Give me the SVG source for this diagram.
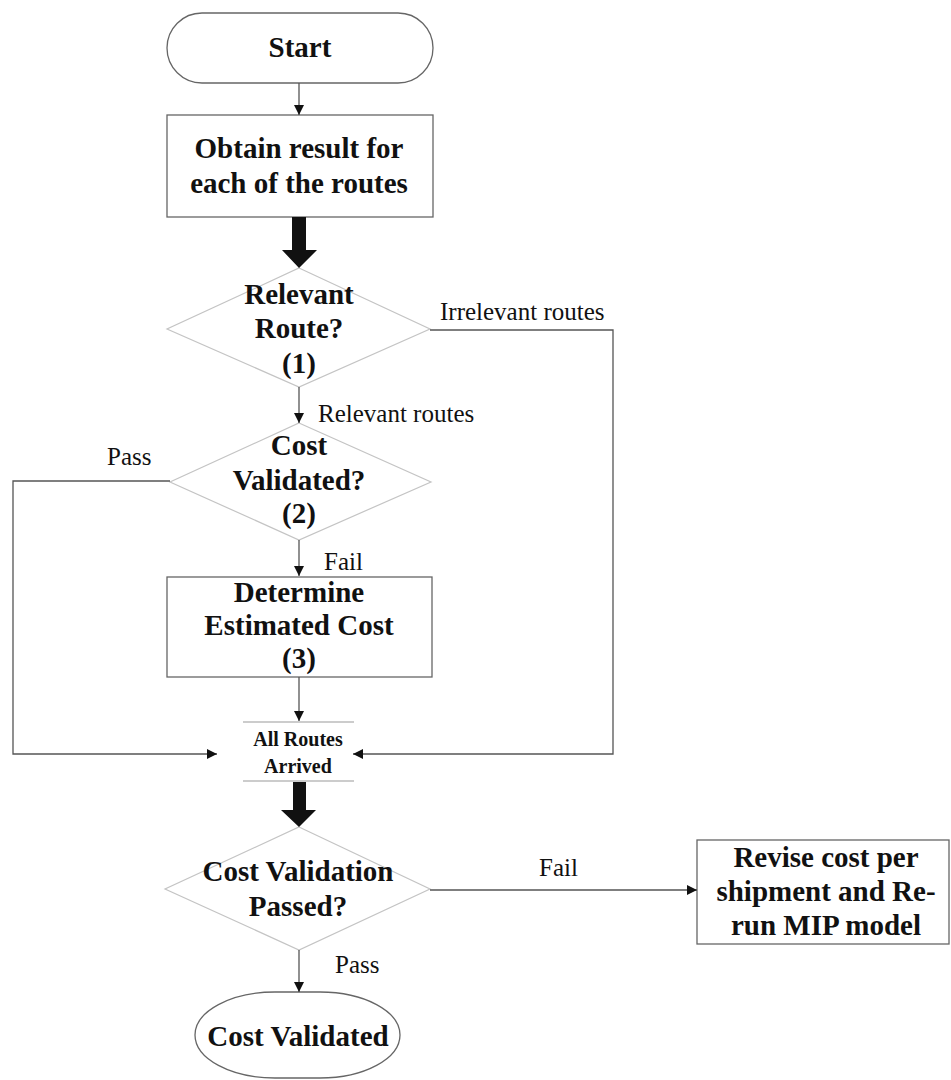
<svg xmlns="http://www.w3.org/2000/svg" width="951" height="1080" viewBox="0 0 951 1080">
<style>
.t{font-family:"Liberation Serif","Times New Roman",serif;font-weight:bold;font-size:29px;fill:#111;text-anchor:middle}
.s{font-family:"Liberation Serif","Times New Roman",serif;font-weight:bold;font-size:20px;fill:#111;text-anchor:middle}
.l{font-family:"Liberation Serif","Times New Roman",serif;font-size:25px;fill:#111}
.box{fill:#fff;stroke:#666;stroke-width:1.3}
.dia{fill:#fff;stroke:#c4c4c4;stroke-width:1.2}
.c{fill:none;stroke:#555;stroke-width:1.3}
.thick{fill:#111}
</style>
<defs>
<marker id="ah" viewBox="0 0 10 10" refX="10" refY="5" markerWidth="10" markerHeight="10" markerUnits="userSpaceOnUse" orient="auto">
<path d="M0,0 L10,5 L0,10 z" fill="#111"/>
</marker>
</defs>
<rect width="951" height="1080" fill="#fff"/>
<g id="start">
<rect class="box" x="167" y="13" width="266" height="70" rx="35" ry="35"/>
<text class="t" x="300" y="57">Start</text>
</g>
<g id="obtain">
<rect class="box" x="167" y="115" width="266" height="102"/>
<text class="t" x="299" y="158">Obtain result for</text>
<text class="t" x="299" y="193">each of the routes</text>
</g>
<g id="relevant">
<polygon class="dia" points="299,268 430,329 299,387 167,329"/>
<text class="t" x="299" y="304">Relevant</text>
<text class="t" x="299" y="338">Route?</text>
<text class="t" x="299" y="373">(1)</text>
</g>
<g id="costvalidated">
<polygon class="dia" points="299,423 431,482 299,540 170,482"/>
<text class="t" x="299" y="455">Cost</text>
<text class="t" x="299" y="490">Validated?</text>
<text class="t" x="299" y="523">(2)</text>
</g>
<g id="determine">
<rect class="box" x="167" y="577" width="265" height="100"/>
<text class="t" x="299" y="602">Determine</text>
<text class="t" x="299" y="635">Estimated Cost</text>
<text class="t" x="299" y="668">(3)</text>
</g>
<g id="allroutes">
<line x1="243" y1="722" x2="354" y2="722" stroke="#999" stroke-width="1.2"/>
<line x1="243" y1="781" x2="354" y2="781" stroke="#999" stroke-width="1.2"/>
<text class="s" x="298" y="746">All Routes</text>
<text class="s" x="298" y="773">Arrived</text>
</g>
<g id="validationpassed">
<polygon class="dia" points="299,827 430,889 299,950 165,889"/>
<text class="t" x="298" y="881">Cost Validation</text>
<text class="t" x="298" y="916">Passed?</text>
</g>
<g id="revise">
<rect class="box" x="697" y="840" width="252" height="104"/>
<text class="t" x="826" y="867">Revise cost per</text>
<text class="t" x="826" y="901">shipment and Re-</text>
<text class="t" x="826" y="935">run MIP model</text>
</g>
<g id="final">
<rect class="box" x="195" y="992" width="205" height="86" rx="80" ry="43"/>
<text class="t" x="298" y="1046">Cost Validated</text>
</g>
<g id="connectors">
<line class="c" x1="299" y1="83" x2="299" y2="115" marker-end="url(#ah)"/>
<polygon class="thick" points="292,217 306,217 306,250 317,250 299,268 282,250 292,250"/>
<line class="c" x1="299" y1="387" x2="299" y2="423" marker-end="url(#ah)"/>
<polyline class="c" points="430,330 613,330 613,754 353,754" marker-end="url(#ah)"/>
<polyline class="c" points="170,481 13,481 13,754 217,754" marker-end="url(#ah)"/>
<line class="c" x1="299" y1="540" x2="299" y2="576" marker-end="url(#ah)"/>
<line class="c" x1="299" y1="677" x2="299" y2="721" marker-end="url(#ah)"/>
<polygon class="thick" points="293,782 306,782 306,810 316,810 299,827 281,810 293,810"/>
<line class="c" x1="430" y1="890" x2="697" y2="890" marker-end="url(#ah)"/>
<line class="c" x1="299" y1="950" x2="299" y2="992" marker-end="url(#ah)"/>
<text class="l" x="440" y="320">Irrelevant routes</text>
<text class="l" x="318" y="422">Relevant routes</text>
<text class="l" x="107" y="465">Pass</text>
<text class="l" x="324" y="570">Fail</text>
<text class="l" x="539" y="876">Fail</text>
<text class="l" x="335" y="973">Pass</text>
</g>
</svg>
